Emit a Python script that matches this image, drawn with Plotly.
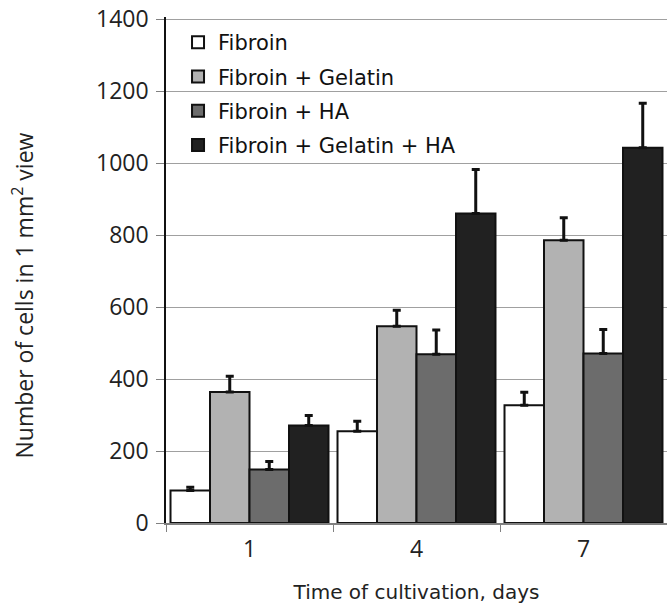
import plotly.graph_objects as go

days = ["1", "4", "7"]
series_names = ["Fibroin", "Fibroin + Gelatin", "Fibroin + HA", "Fibroin + Gelatin + HA"]
fibroin = [90, 255, 327]
fibroin_err = [9, 28, 36]
fib_gel = [364, 547, 786]
fib_gel_err = [44, 44, 62]
fib_ha = [149, 469, 471]
fib_ha_err = [22, 67, 67]
fib_gel_ha = [271, 860, 1043]
fib_gel_ha_err = [28, 122, 123]
y_ticks = [0, 200, 400, 600, 800, 1000, 1200, 1400]
y_title = "Number of cells in 1 mm<sup>2</sup> view"
x_title = "Time of cultivation, days"

values = [fibroin, fib_gel, fib_ha, fib_gel_ha]
errors = [fibroin_err, fib_gel_err, fib_ha_err, fib_gel_ha_err]
colors = ["#ffffff", "#b2b2b2", "#6c6c6c", "#212121"]

fig = go.Figure()
for i, (name, v, e, c) in enumerate(zip(series_names, values, errors, colors)):
    fig.add_trace(go.Bar(
        x=days, y=v, name=name, legendgroup=f"g{i}",
        marker=dict(color=c, line=dict(color="#111111", width=2)),
        error_y=dict(type="data", array=e, arrayminus=[0] * len(e), symmetric=False,
                     color="#111111", thickness=3, width=4),
    ))

fig.update_layout(
    width=667, height=605,
    margin=dict(l=166, r=0, t=17, b=82),
    paper_bgcolor="white", plot_bgcolor="white",
    barmode="group", bargap=0.054, bargroupgap=0,
    font=dict(family="Open Sans, sans-serif", size=23, color="#222222"),
    showlegend=True,
    legend=dict(
        x=0.024, y=0.99, xanchor="left", yanchor="top",
        font=dict(family="DejaVu Sans, sans-serif", size=21, color="#111111"),
        bgcolor="rgba(0,0,0,0)", traceorder="grouped", tracegroupgap=4,
    ),
    xaxis=dict(
        type="category", range=[-0.5, 2.5],
        showline=True, linecolor="#808080", linewidth=2,
        ticks="outside", tickson="boundaries", ticklen=7, tickcolor="#808080",
        tickfont=dict(size=23), ticklabelstandoff=4,
        title=dict(text=x_title, font=dict(family="DejaVu Sans, sans-serif", size=20), standoff=22),
    ),
    yaxis=dict(
        range=[0, 1406], tickvals=y_ticks,
        showgrid=True, gridcolor="#a0a0a0", gridwidth=1,
        showline=True, linecolor="#111111", linewidth=1.5,
        ticks="outside", ticklen=8, tickcolor="#808080",
        tickfont=dict(size=23), ticklabelstandoff=3, zeroline=False,
    ),
    annotations=[dict(
        text=y_title, textangle=-90, xref="paper", yref="paper",
        x=-0.285, y=0.45, xanchor="center", yanchor="middle", showarrow=False,
        font=dict(family="Open Sans, sans-serif", size=23, color="#222222"),
    )],
)

fig.write_html(
    "out.html",
    config={"displayModeBar": False},
    post_script="document.body.style.margin='0';document.body.style.overflow='hidden';",
)
